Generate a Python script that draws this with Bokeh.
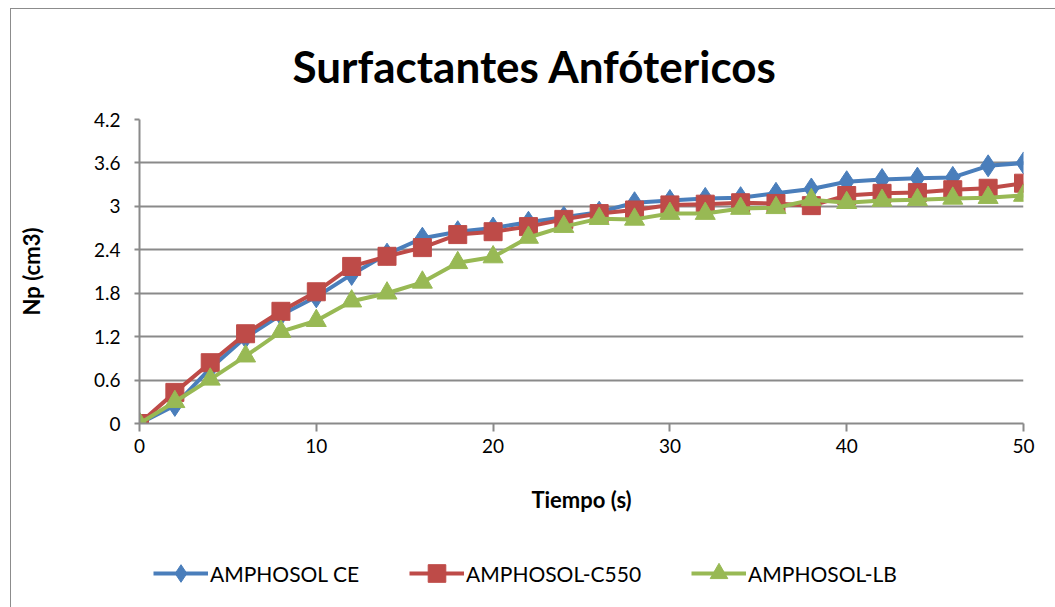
from bokeh.plotting import figure
from bokeh.layouts import column
from bokeh.models import Range1d, Legend, LegendItem, FixedTicker, NumeralTickFormatter
from bokeh.embed import file_html
from bokeh.resources import INLINE

# Time in seconds and produced volume Np (cm3) for each amphoteric surfactant
tiempo = [0, 2, 4, 6, 8, 10, 12, 14, 16, 18, 20, 22, 24, 26, 28, 30, 32, 34, 36, 38, 40, 42, 44, 46, 48, 50]
amphosol_ce = [0, 0.25, 0.76, 1.19, 1.50, 1.75, 2.06, 2.34, 2.56, 2.65, 2.70, 2.78, 2.85, 2.92, 3.05, 3.08, 3.11, 3.12, 3.18, 3.24, 3.34, 3.37, 3.39, 3.40, 3.56, 3.60]
amphosol_c550 = [0, 0.43, 0.84, 1.24, 1.55, 1.82, 2.17, 2.31, 2.43, 2.61, 2.65, 2.72, 2.82, 2.90, 2.95, 3.02, 3.03, 3.05, 3.04, 3.01, 3.15, 3.18, 3.19, 3.23, 3.25, 3.32]
amphosol_lb = [0, 0.30, 0.61, 0.93, 1.27, 1.42, 1.69, 1.80, 1.95, 2.22, 2.30, 2.57, 2.72, 2.83, 2.82, 2.90, 2.90, 2.97, 2.98, 3.09, 3.05, 3.08, 3.09, 3.11, 3.12, 3.15]

x_ticks = [0, 10, 20, 30, 40, 50]
y_ticks = [0, 0.6, 1.2, 1.8, 2.4, 3.0, 3.6, 4.2]

FONT = "Lato"
GRID = "#8a8a8a"

p = figure(
    frame_width=884, frame_height=304,
    output_backend="svg", toolbar_location=None,
    x_range=Range1d(0, 50), y_range=Range1d(0, 4.2),
    min_border_left=128, min_border_right=32, min_border_top=110, min_border_bottom=110,
    background_fill_color="white", border_fill_color="white",
)
p.outline_line_color = None

p.title.text = "Surfactantes Anfótericos"
p.title.text_font = FONT
p.title.text_font_size = "44px"
p.title.text_font_style = "bold"
p.title.text_color = "black"
p.title.align = "left"
p.title.offset = 153
p.title.standoff = 55

# Axes
p.xaxis.ticker = FixedTicker(ticks=x_ticks)
p.yaxis.ticker = FixedTicker(ticks=y_ticks)
p.yaxis.formatter = NumeralTickFormatter(format="0.[0]")
for ax in (p.xaxis[0], p.yaxis[0]):
    ax.axis_line_color = GRID
    ax.axis_line_width = 2
    ax.major_tick_line_color = GRID
    ax.major_tick_line_width = 2
    ax.major_tick_in = 0
    ax.minor_tick_line_color = None
    ax.major_label_text_font = FONT
    ax.major_label_text_font_size = "19px"
    ax.major_label_text_color = "black"
    ax.axis_label_text_font = FONT
    ax.axis_label_text_font_size = "22px"
    ax.axis_label_text_font_style = "bold"
    ax.axis_label_text_color = "black"
p.xaxis.major_tick_out = 8
p.yaxis.major_tick_out = 5
p.xaxis.major_label_standoff = 7
p.yaxis.major_label_standoff = 14
p.xaxis.axis_label = "Tiempo (s)"
p.yaxis.axis_label = "Np (cm3)"
p.xaxis.axis_label_standoff = 30
p.yaxis.axis_label_standoff = 46

p.xgrid.grid_line_color = None
p.ygrid.grid_line_color = GRID
p.ygrid.grid_line_width = 2

series = [
    ("AMPHOSOL CE", amphosol_ce, "#4a7ebb", "diamond", 22),
    ("AMPHOSOL-C550", amphosol_c550, "#be4b48", "square", 18),
    ("AMPHOSOL-LB", amphosol_lb, "#98b954", "triangle", 20),
]

# Legend strip below the chart; its ranges keep the key renderers' own marks off view
key = figure(
    width=1044, height=74,
    output_backend="svg", toolbar_location=None,
    x_range=Range1d(-20, -19), y_range=Range1d(-20, -19),
    x_axis_type=None, y_axis_type=None,
    min_border=0, background_fill_color="white", border_fill_color="white",
)
key.outline_line_color = None
key.grid.visible = False

items = []
for name, vals, color, marker, size in series:
    p.line(tiempo, vals, line_color=color, line_width=4)
    p.scatter(tiempo, vals, marker=marker, size=size, fill_color=color, line_color=color)
    kl = key.line(tiempo, vals, line_color=color, line_width=4)
    ks = key.scatter(tiempo, vals, marker=marker, size=size, fill_color=color, line_color=color)
    items.append(LegendItem(label=name, renderers=[kl, ks]))

legend = Legend(items=items, orientation="horizontal", location=(14, 12))
legend.label_text_font = FONT
legend.label_text_font_size = "21px"
legend.label_text_color = "black"
legend.glyph_width = 55
legend.glyph_height = 44
legend.label_standoff = 2
legend.spacing = 50
legend.padding = 5
legend.margin = 0
legend.border_line_color = None
legend.background_fill_alpha = 0
key.add_layout(legend, "center")

layout = column(p, key, spacing=0)
layout.styles = {"margin-left": "10px", "margin-top": "8px",
                 "border-left": "1px solid #8c8c8c", "border-top": "1px solid #8c8c8c"}

open("out.html", "w").write(file_html(layout, INLINE))
